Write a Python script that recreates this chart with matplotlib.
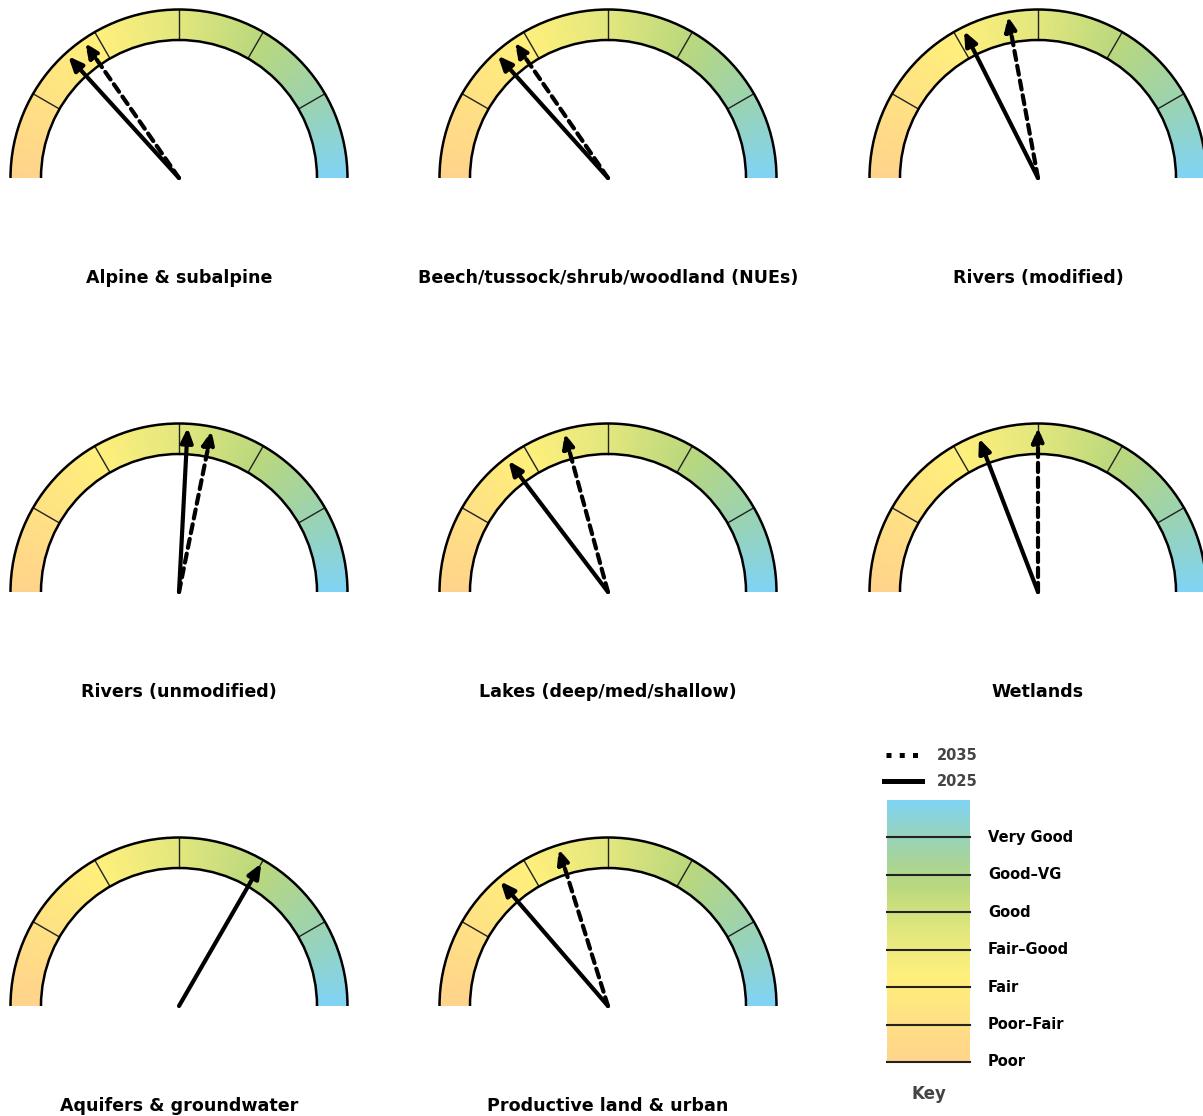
import numpy as np
import matplotlib
matplotlib.use('Agg')
import matplotlib.pyplot as plt
from matplotlib.colors import LinearSegmentedColormap
from matplotlib.patches import Wedge, Arc

# habitats and condition scores (0 = Poor ... 6 = Very Good)
habitats = ['Alpine & subalpine', 'Beech/tussock/shrub/woodland (NUEs)', 'Rivers (modified)',
            'Rivers (unmodified)', 'Lakes (deep/med/shallow)', 'Wetlands',
            'Aquifers & groundwater', 'Productive land & urban']
score_2025 = [1.59, 1.60, 2.11, 3.10, 1.76, 2.30, 4.00, 1.64]
score_2035 = [1.84, 1.85, 2.65, 3.38, 2.49, 3.00, np.nan, 2.42]
levels = ['Poor', 'Poor–Fair', 'Fair', 'Fair–Good', 'Good', 'Good–VG', 'Very Good']

cmap = LinearSegmentedColormap.from_list('cond', [
    (0.00, '#ffd38c'), (0.33, '#fff07c'), (0.50, '#e2e77e'),
    (0.67, '#bad87d'), (0.83, '#9dd3ae'), (1.00, '#80d4f5')])

W, H = 1203, 1116
R_OUT, R_IN = 168.5, 138
col_x = [179, 608, 1038]
row_y = [178, 592, 1006]

fig = plt.figure(figsize=(W / 100, H / 100), dpi=100)
ax = fig.add_axes([0, 0, 1, 1])
ax.set_axis_off()


def draw_gauge(cx, cy, name, v25, v35):
    # gradient band
    xs = np.arange(cx - R_OUT, cx + R_OUT + 1, 1.0)
    ys = np.arange(cy, cy + R_OUT + 1, 1.0)
    X, Y = np.meshgrid(xs, ys)
    ang = np.degrees(np.arctan2(Y - cy, X - cx))
    frac = np.clip((180 - ang) / 180, 0, 1)
    im = ax.imshow(cmap(frac), extent=(xs[0], xs[-1], ys[0], ys[-1]), origin='lower',
                   interpolation='bilinear', zorder=1)
    band = Wedge((cx, cy), R_OUT, 0, 180, width=R_OUT - R_IN, transform=ax.transData)
    im.set_clip_path(band)
    ax.add_patch(Arc((cx, cy), 2 * R_OUT, 2 * R_OUT, theta1=0, theta2=180, lw=1.8, color='k', zorder=3))
    ax.add_patch(Arc((cx, cy), 2 * R_IN, 2 * R_IN, theta1=0, theta2=180, lw=1.8, color='k', zorder=3))
    for k in range(1, len(levels) - 1):
        a = np.radians(180 - 30 * k)
        ax.plot([cx + R_IN * np.cos(a), cx + R_OUT * np.cos(a)],
                [cy + R_IN * np.sin(a), cy + R_OUT * np.sin(a)], color='#222222', lw=1, zorder=2)
    # needles
    for v, ls in [(v35, (0, (2.2, 1.4))), (v25, '-')]:
        if np.isnan(v):
            continue
        a = np.radians(180 - 30 * v)
        L = R_OUT - 4
        ax.annotate('', xy=(cx + L * np.cos(a), cy + L * np.sin(a)), xytext=(cx, cy),
                    arrowprops=dict(arrowstyle='-|>,head_length=0.7,head_width=0.3', lw=3,
                                    color='k', linestyle=ls, mutation_scale=12,
                                    shrinkA=0, shrinkB=0),
                    zorder=4)
    ax.text(cx, cy - 100, name, ha='center', va='center', fontsize=12.6, fontweight='bold')


for i, name in enumerate(habitats):
    r, c = divmod(i, 3)
    draw_gauge(col_x[c], H - row_y[r], name, score_2025[i], score_2035[i])

# key
kx0, kx1 = 887, 970
ky0 = H - 1062
step = (1062 - 800) / 7
ax.imshow(np.linspace(0, 1, 256).reshape(-1, 1), cmap=cmap, origin='lower', aspect='auto',
          extent=(kx0, kx1, ky0, ky0 + 7 * step), interpolation='bilinear', zorder=1)
for k, lab in enumerate(levels):
    yk = ky0 + k * step
    ax.plot([kx0, kx1], [yk, yk], color='#222222', lw=1.5, zorder=2)
    ax.text(988, yk, lab, ha='left', va='center', fontsize=10.5, fontweight='bold')
ax.text((kx0 + kx1) / 2, H - 1094, 'Key', ha='center', va='center', fontsize=12,
        fontweight='bold', color='#444444')

# legend
ax.plot([886, 922], [H - 755, H - 755], color='k', lw=3.6, ls=':')
ax.plot([884, 922], [H - 781, H - 781], color='k', lw=3.6)
ax.text(937, H - 755, '2035', ha='left', va='center', fontsize=10.5, fontweight='bold', color='#444444')
ax.text(937, H - 781, '2025', ha='left', va='center', fontsize=10.5, fontweight='bold', color='#444444')

ax.set_xlim(0, W)
ax.set_ylim(0, H)
ax.set_aspect('auto')
fig.savefig('out.png', dpi=100)
